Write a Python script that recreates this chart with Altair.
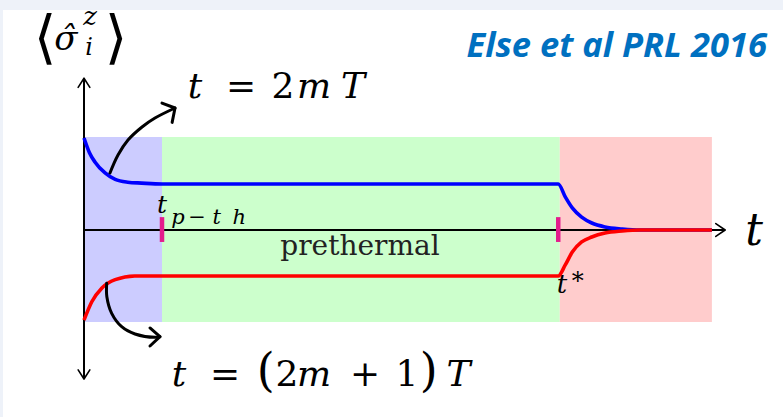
import altair as alt
import pandas as pd

# Plot coordinates: time in units of t_{p-th} (origin at the vertical axis),
# vertical axis is <sigma_i^z>, with the prethermal plateau at +/-0.5.
T_LO, T_HI = -84 / 78, 699 / 78
S_LO, S_HI = -187 / 92, 230 / 92

t_pth = 1.0
t_star = 6.08

# shaded regimes: initial transient, prethermal plateau, thermalised
region_name = ["transient", "prethermal", "thermal"]
region_start = [0.0, 1.0, 6.1]
region_end = [1.0, 6.1, 8.05]
region_color = ["#ccccff", "#ccffcc", "#ffcccc"]
region_top = 1.01
region_bottom = -1.0

# <sigma^z> at even periods t = 2mT
blue_t = [0.0, 0.07, 0.14, 0.27, 0.40, 0.56, 0.74, 1.0, 6.08, 6.17, 6.26, 6.38, 6.51, 6.68, 6.90, 7.13, 8.05]
blue_s = [1.0, 0.84, 0.74, 0.62, 0.55, 0.52, 0.51, 0.5, 0.5, 0.36, 0.24, 0.14, 0.076, 0.033, 0.011, 0.0, 0.0]

# <sigma^z> at odd periods t = (2m+1)T
red_t = [0.0, 0.10, 0.23, 0.40, 0.65, 1.0, 6.08, 6.17, 6.26, 6.38, 6.51, 6.68, 6.90, 7.13, 8.05]
red_s = [-0.98, -0.78, -0.63, -0.54, -0.50, -0.5, -0.5, -0.38, -0.24, -0.13, -0.076, -0.033, -0.011, 0.0, 0.0]

xs = alt.Scale(domain=[T_LO, T_HI], nice=False, zero=False)
ys = alt.Scale(domain=[S_LO, S_HI], nice=False, zero=False)


def X(f):
    return alt.X(f"{f}:Q", scale=xs, axis=None)


def Y(f):
    return alt.Y(f"{f}:Q", scale=ys, axis=None)


# slide frame strips (top and left edge)
frame = pd.DataFrame({
    "x": [T_LO, T_LO], "x2": [T_HI, -81 / 78],
    "y": [2.391, S_LO], "y2": [S_HI, S_HI],
})
frame_layer = alt.Chart(frame).mark_rect(color="#eef2f9").encode(
    x=X("x"), x2="x2", y=Y("y"), y2="y2")

regions = pd.DataFrame({
    "name": region_name, "start": region_start, "end": region_end,
    "lo": [region_bottom] * 3, "hi": [region_top] * 3,
})
region_layer = alt.Chart(regions).mark_rect().encode(
    x=X("start"), x2="end", y=Y("lo"), y2="hi",
    color=alt.Color("name:N", scale=alt.Scale(domain=region_name, range=region_color), legend=None),
)

# axes
axes = pd.DataFrame({"x": [0.0, 0.0], "y": [-1.62, 0.0], "x2": [0.0, 8.22], "y2": [1.65, 0.0]})
axes_layer = alt.Chart(axes).mark_rule(color="black", strokeWidth=2).encode(
    x=X("x"), y=Y("y"), x2="x2", y2="y2")

axis_heads = pd.DataFrame({
    "id": ["up"] * 3 + ["down"] * 3 + ["right"] * 3,
    "k": [0, 1, 2] * 3,
    "x": [-0.075, 0.0, 0.075, -0.075, 0.0, 0.075, 8.10, 8.22, 8.10],
    "y": [1.55, 1.65, 1.55, -1.52, -1.62, -1.52, 0.07, 0.0, -0.07],
})
axis_head_layer = alt.Chart(axis_heads).mark_line(
    color="black", strokeWidth=1.6, strokeCap="round", strokeJoin="round").encode(
    x=X("x"), y=Y("y"), detail="id:N", order="k:Q")

curves = pd.concat([
    pd.DataFrame({"series": "even", "t": blue_t, "s": blue_s}),
    pd.DataFrame({"series": "odd", "t": red_t, "s": red_s}),
])
curve_layers = [
    alt.Chart(curves[curves.series == name]).mark_line(
        color=col, strokeWidth=3.6, interpolate="monotone", strokeCap="butt").encode(
        x=X("t"), y=Y("s"))
    for name, col in [("even", "#0000ff"), ("odd", "#ff0000")]
]

ticks = pd.DataFrame({"x": [t_pth, t_star], "y": [0.14, 0.14], "y2": [-0.13, -0.13]})
tick_layer = alt.Chart(ticks).mark_rule(color="#e31c8c", strokeWidth=4.5).encode(
    x=X("x"), y=Y("y"), y2="y2")

# curved pointers to the two branches
pointers = pd.DataFrame({
    "id": ["even"] * 6 + ["odd"] * 7,
    "k": list(range(6)) + list(range(7)),
    "x": [0.333, 0.436, 0.564, 0.744, 0.910, 1.167,
          0.291, 0.293, 0.355, 0.483, 0.654, 0.910, 0.974],
    "y": [0.620, 0.815, 0.978, 1.120, 1.217, 1.326,
          -0.579, -0.725, -0.906, -1.051, -1.130, -1.167, -1.160],
})
pointer_layer = alt.Chart(pointers).mark_line(
    color="black", strokeWidth=3, interpolate="catmull-rom", strokeCap="round").encode(
    x=X("x"), y=Y("y"), detail="id:N", order="k:Q")

pointer_heads = pd.DataFrame({
    "id": ["even"] * 3 + ["odd"] * 3,
    "k": [0, 1, 2] * 2,
    "x": [1.0, 1.167, 1.13, 0.846, 0.974, 0.846],
    "y": [1.38, 1.326, 1.17, -1.065, -1.160, -1.261],
})
pointer_head_layer = alt.Chart(pointer_heads).mark_line(
    color="black", strokeWidth=3, strokeCap="round", strokeJoin="round").encode(
    x=X("x"), y=Y("y"), detail="id:N", order="k:Q")

MATH = "DejaVu Serif"

# math glyphs, set one by one: (text, x, baseline y, size)
italic_glyphs = [
    ("σ̂", -0.231, 1.957, 34), ("z", 0.077, 2.228, 26), ("i", 0.064, 1.902, 24),
    ("t", 1.423, 1.435, 36), ("m", 2.949, 1.435, 36), ("T", 3.45, 1.435, 36),
    ("t", 1.218, -1.696, 36), ("m", 2.949, -1.696, 36), ("T", 4.80, -1.696, 36),
    ("t", 1.0, 0.185, 25), ("p", 1.205, 0.065, 21), ("t", 1.70, 0.065, 21), ("h", 1.99, 0.065, 21),
    ("t", 6.128, -0.685, 26),
    ("t", 8.59, -0.163, 44),
]
upright_glyphs = [
    ("⟨", -0.5, 1.88, 58), ("⟩", 0.41, 1.88, 58),
    ("=", 2.013, 1.435, 36), ("2", 2.551, 1.435, 36),
    ("=", 1.808, -1.696, 36), ("(", 2.33, -1.696, 46), ("2", 2.603, -1.696, 36),
    ("+", 3.603, -1.696, 36), ("1", 4.141, -1.696, 36), (")", 4.42, -1.696, 46),
    ("−", 1.449, 0.065, 21),
    ("*", 6.33, -0.641, 24),
]


def glyph_layer(rows, style):
    df = pd.DataFrame(rows, columns=["txt", "x", "y", "size"])
    return alt.Chart(df).mark_text(
        font=MATH, fontStyle=style, color="black", align="center", baseline="alphabetic").encode(
        x=X("x"), y=Y("y"), text="txt:N", size=alt.Size("size:Q", scale=None))


italic_layer = glyph_layer(italic_glyphs, "italic")
upright_layer = glyph_layer(upright_glyphs, "normal")

phase_label = pd.DataFrame({"txt": ["prethermal"], "x": [3.538], "y": [-0.272]})
phase_layer = alt.Chart(phase_label).mark_text(
    font="DejaVu Serif", fontSize=28, color="#222222", align="center", baseline="alphabetic").encode(
    x=X("x"), y=Y("y"), text="txt:N")

citation = pd.DataFrame({"txt": ["Else et al PRL 2016"], "x": [8.756], "y": [1.88]})
citation_layer = alt.Chart(citation).mark_text(
    font="Open Sans", fontSize=34.5, fontWeight="bold", fontStyle="italic", color="#0070c0",
    align="right", baseline="alphabetic").encode(
    x=X("x"), y=Y("y"), text="txt:N")

chart = alt.layer(
    frame_layer, region_layer, axes_layer, axis_head_layer,
    *curve_layers, tick_layer, pointer_layer, pointer_head_layer,
    italic_layer, upright_layer, phase_layer, citation_layer,
).properties(
    width=783, height=417, padding=0,
    autosize=alt.AutoSizeParams(type="none"),
    background="white",
).configure_view(stroke=None)

chart.save("out.html", embed_options={"renderer": "svg", "actions": False})
